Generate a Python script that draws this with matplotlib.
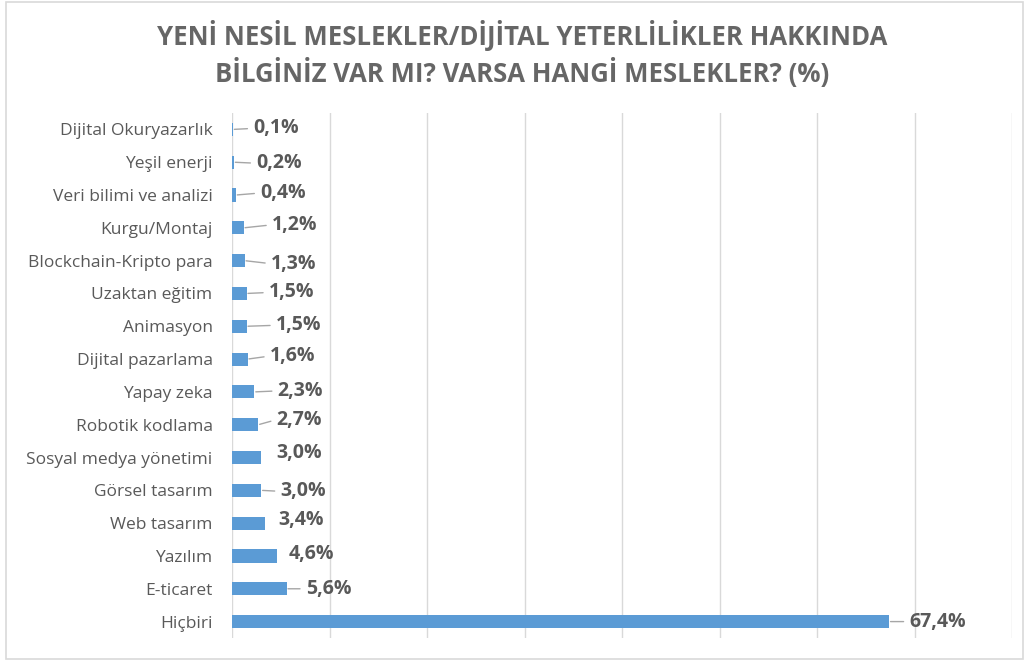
import matplotlib.pyplot as plt
from matplotlib.patches import Rectangle

# --- DATA ---
categories = [
    "Dijital Okuryazarlık", "Yeşil enerji", "Veri bilimi ve analizi",
    "Kurgu/Montaj", "Blockchain-Kripto para", "Uzaktan eğitim",
    "Animasyon", "Dijital pazarlama", "Yapay zeka", "Robotik kodlama",
    "Sosyal medya yönetimi", "Görsel tasarım", "Web tasarım",
    "Yazılım", "E-ticaret", "Hiçbiri",
]
values = [0.1, 0.2, 0.4, 1.2, 1.3, 1.5, 1.5, 1.6, 2.3, 2.7,
          3.0, 3.0, 3.4, 4.6, 5.6, 67.4]
title = "YENİ NESİL MESLEKLER/DİJİTAL YETERLİLİKLER HAKKINDA\nBİLGİNİZ VAR MI? VARSA HANGİ MESLEKLER? (%)"

# label offsets from bar end, in pixels (dx right, dy up) - moved labels like in Excel
label_offsets = [(20, 1), (22, -1), (24, 2), (28, 3), (26, -3), (22, 1),
                 (29, 1), (22, 3), (23, 1), (18, 5), (15, 5), (19, -1),
                 (13, 3), (12, 2), (19, 0), (20, 0)]

BAR = '#5B9BD5'
TXT = '#595959'
GRID = '#D9D9D9'
plt.rcParams['font.family'] = ['Open Sans', 'DejaVu Sans']

fig = plt.figure(figsize=(10.25, 6.62), dpi=100)
fig.patches.append(Rectangle((6 / 1025, 1 - 659 / 662), 1017 / 1025, 657 / 662,
                             transform=fig.transFigure, fill=False,
                             edgecolor=GRID, linewidth=1.2))
ax = fig.add_axes([232 / 1025, 1 - 638 / 662, 780 / 1025, 525 / 662])

y = list(range(len(categories)))
ax.barh(y, values, height=0.4, color=BAR, zorder=3)
ax.set_ylim(len(categories) - 0.5, -0.5)
ax.set_xlim(0, 80)
ax.set_xticks(range(0, 81, 10))
ax.set_xticklabels([])
ax.set_yticks(y)
ax.set_yticklabels(categories, fontsize=12.5, color=TXT)
ax.tick_params(axis='both', length=0)
ax.tick_params(axis='y', pad=14)
ax.grid(axis='x', color=GRID, linewidth=1, zorder=0)
for s in ax.spines.values():
    s.set_visible(False)

for i, v in enumerate(values):
    dx, dy = label_offsets[i]
    lbl = f"{v:.1f}".replace('.', ',') + '%'
    arrow = None
    if dx > 16:
        arrow = dict(arrowstyle='-', color='#A6A6A6', lw=1, shrinkA=2, shrinkB=1,
                     relpos=(0, 0.5))
    ax.annotate(lbl, xy=(v, i), xytext=(dx, dy), textcoords='offset pixels',
                ha='left', va='center', fontsize=14, fontweight='bold',
                color=TXT, arrowprops=arrow, zorder=4)

fig.text(522 / 1025, 1 - 54 / 662, title, ha='center', va='center',
         fontsize=18.5, fontweight='bold', color='#666666', linespacing=1.3)

fig.savefig('out.png', dpi=100)
